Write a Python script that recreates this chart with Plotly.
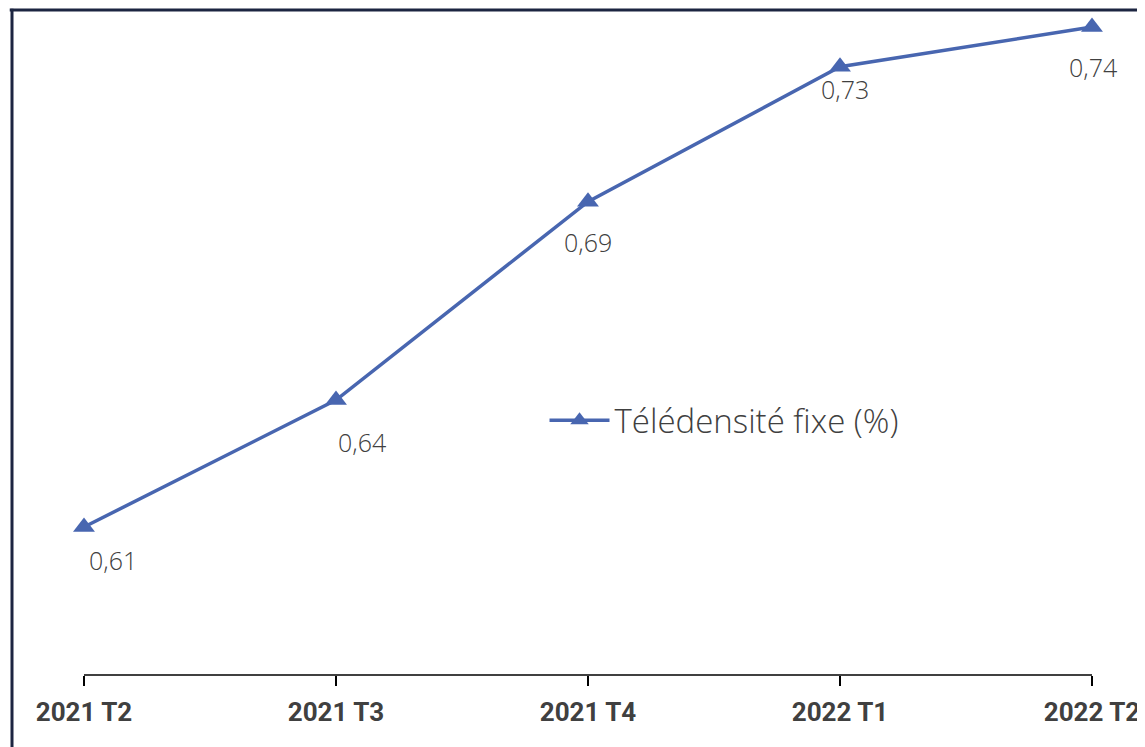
import plotly.graph_objects as go

categories = ["2021 T2", "2021 T3", "2021 T4", "2022 T1", "2022 T2"]
values = [0.612, 0.644, 0.694, 0.728, 0.738]
series_name = "Télédensité fixe (%)"

# label offsets (style) in px: (dx, dy)
label_offsets = [(29, -33), (26, -42), (0, -40), (5, -22), (1, -40)]

COLOR = "#4866B0"
BORDER = "#1C2541"

fig = go.Figure()
fig.add_trace(go.Scatter(
    x=categories, y=values, mode="lines+markers", name=series_name,
    line=dict(color=COLOR, width=3.5),
    marker=dict(symbol="triangle-up", size=19, color=COLOR),
    cliponaxis=False,
))

for (c, v), (dx, dy) in zip(zip(categories, values), label_offsets):
    fig.add_annotation(
        x=c, y=v, xref="x", yref="y", showarrow=False,
        text=f"{v:.2f}".replace(".", ","),
        xshift=dx, yshift=dy,
        font=dict(family="Open Sans", size=25, color="#404040", weight=300),
    )

# axis baseline from first to last category
fig.add_shape(type="line", xref="x", yref="paper", x0=categories[0], x1=categories[-1],
              y0=0, y1=0, line=dict(color="#000000", width=1.5))
# outer borders (top and left)
fig.add_shape(type="line", xref="paper", yref="paper", x0=-0.002, x1=1.01, y0=1, y1=1,
              line=dict(color=BORDER, width=3))
fig.add_shape(type="line", xref="paper", yref="paper", x0=0, x1=0, y0=-0.2, y1=1.002,
              line=dict(color=BORDER, width=3))

fig.update_layout(
    width=1137, height=739,
    margin=dict(l=4, r=0, t=2, b=72),
    paper_bgcolor="white", plot_bgcolor="white",
    showlegend=True,
    legend=dict(x=0.470, y=0.383, xanchor="left", yanchor="middle",
                font=dict(family="Open Sans", size=33, color="#404040", weight=300),
                bgcolor="rgba(0,0,0,0)", itemwidth=60),
    xaxis=dict(type="category", range=[-0.2857, 4.2103], showgrid=False, zeroline=False,
               showline=False, ticks="outside", ticklen=10, tickwidth=1.5, tickcolor="#000000",
               ticklabelstandoff=4,
               tickfont=dict(family="Roboto", size=26, color="#404040", weight="bold")),
    yaxis=dict(range=[0.5747, 0.7423], showgrid=False, zeroline=False, showline=False,
               showticklabels=False, ticks=""),
)

fig.write_html("out.html")
